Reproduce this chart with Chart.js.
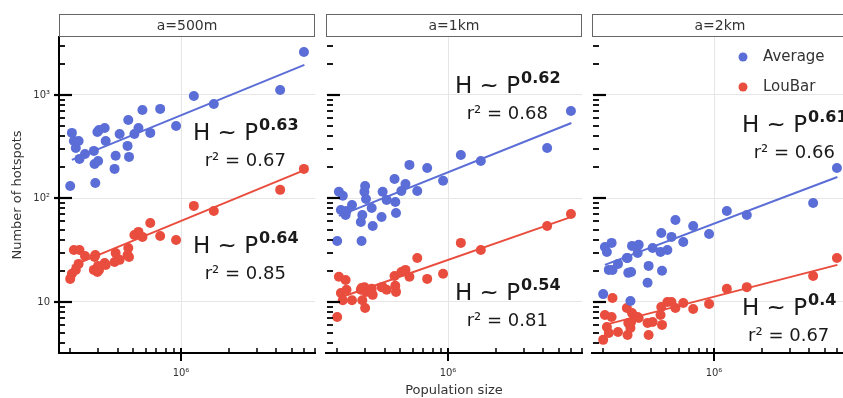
<!DOCTYPE html>
<html>
<head>
<meta charset="utf-8">
<script src="https://cdn.jsdelivr.net/npm/chart.js@4.4.0/dist/chart.umd.min.js"></script>
<style>
  body { margin: 0; background: #fff; }
  #wrap { position: relative; width: 843px; height: 398px; overflow: hidden; }
  canvas { position: absolute; top: 0; }
</style>
</head>
<body>
<div id="wrap">
  <canvas id="c500" width="320" height="398" style="left:0px"></canvas>
  <canvas id="c1k" width="267" height="398" style="left:320px"></canvas>
  <canvas id="c2k" width="267" height="398" style="left:586px"></canvas>
</div>
<script>
// city populations (shared by every panel)
const population = [200000, 205000, 211000, 217000, 226000, 229000, 248000, 282000, 285000, 288000,
  297000, 300000, 304000, 330000, 335000, 381000, 387000, 410000, 460000, 465000,
  470000, 508000, 539000, 571000, 640000, 739000, 931000, 1205000, 1610000, 4220000, 5960000];

// number of hotspots, same city order
const avg500 = [132, 430, 359, 307, 359, 241, 269, 288, 215, 141, 439, 230, 459, 480, 359, 193, 258, 420, 322, 573,
  252, 420, 480, 716, 430, 733, 501, 978, 819, 1117, 2603];
const lou500 = [16.7, 18.7, 31.8, 20.4, 23.3, 31.8, 27.8, 20.4, 27.2, 28.4, 19.5, 22.3, 20.4, 23.8, 22.8, 24.3, 29.7,
  25.5, 28.4, 33.2, 27.2, 44.4, 47.5, 42.5, 58.0, 43.4, 39.7, 84.7, 75.7, 121, 193];
const avg1k = [38.8, 116, 77.4, 106, 69.3, 75.7, 86.5, 59.3, 38.8, 69.3, 116, 132, 98.9, 80.9, 54.2, 66.2, 116, 96.8,
  154, 92.5, 72.4, 118, 138, 211, 118, 197, 148, 263, 230, 307, 700];
const lou1k = [7.16, 17.5, 12.2, 10.4, 16.3, 13.1, 10.4, 13.1, 13.6, 10.4, 13.9, 8.75, 12.5, 13.4, 11.7, 13.9, 13.9,
  13.1, 17.8, 14.3, 12.5, 19.5, 20.4, 17.5, 26.6, 16.7, 18.7, 37.2, 31.8, 54.2, 70.8];
const avg2k = [11.9, 34.0, 30.4, 20.4, 37.2, 20.4, 23.3, 26.6, 26.6, 19.1, 10.2, 19.5, 34.8, 29.7, 35.6, 15.3, 22.3,
  33.2, 30.4, 46.4, 20.0, 31.8, 42.5, 62.0, 38.0, 54.2, 45.4, 75.7, 69.3, 90.5, 197];
const lou2k = [4.30, 7.48, 5.73, 5.01, 7.16, 10.9, 5.13, 8.75, 4.80, 6.27, 5.61, 6.41, 7.83, 7.16, 7.00, 6.27, 4.80,
  6.41, 7.48, 8.95, 6.00, 10.0, 10.0, 8.75, 9.77, 8.56, 9.57, 13.4, 13.9, 17.8, 26.6];

// fitted power laws, read at both ends of the population range
const fitPop = [205000, 6000000];
const fitAvg500 = [236, 1950], fitLou500 = [22.3, 188];
const fitAvg1k = [67.8, 536], fitLou1k = [10.9, 66.3];
const fitAvg2k = [22.8, 161], fitLou2k = [6.0, 22.8];

const panelTitles = ['a=500m', 'a=1km', 'a=2km'];
const expAvg = ['0.63', '0.62', '0.61'], r2Avg = ['0.67', '0.68', '0.66'];
const expLou = ['0.64', '0.54', '0.4'], r2Lou = ['0.85', '0.81', '0.67'];

// axis ticks
const yTicks = [4, 5, 6, 7, 8, 9, 10, 20, 30, 40, 50, 60, 70, 80, 90, 100, 200, 300, 400, 500, 600, 700, 800, 900, 1000, 2000, 3000];
const yLabels = { 10: '10', 100: '10²', 1000: '10³' };
const xTicks = [2e5, 3e5, 4e5, 5e5, 6e5, 7e5, 8e5, 9e5, 1e6, 2e6, 3e6, 4e6, 5e6, 6e6, 7e6];
const xLabels = { 1000000: '10⁶' };

const BLUE = '#5b6dd6';
const RED = '#e94d3e';
const FONT = '"DejaVu Sans"';

Chart.defaults.font.family = FONT;
Chart.defaults.color = '#333';

const pts = (ys) => population.map((p, i) => ({ x: p, y: ys[i] }));
const fit = (ys) => fitPop.map((p, i) => ({ x: p, y: ys[i] }));

function drawLaw(ctx, x, y, exp, r2) {
  ctx.fillStyle = '#1a1a1a';
  ctx.textBaseline = 'alphabetic';
  ctx.textAlign = 'left';
  ctx.font = '23px ' + FONT;
  const base = 'H ~ P';
  const w1 = ctx.measureText(base).width;
  ctx.fillText(base, x, y);
  ctx.font = 'bold 16px ' + FONT;
  const w2 = ctx.measureText(exp).width;
  ctx.fillText(exp, x + w1 + 1, y - 10);
  ctx.font = '18px ' + FONT;
  ctx.textAlign = 'center';
  ctx.fillText('r² = ' + r2, x + (w1 + w2) / 2, y + 26);
}

function makePanel(id, idx, opt) {
  const decor = {
    id: 'decor',
    afterDraw(chart) {
      const { ctx, chartArea: a, scales: { x, y } } = chart;
      ctx.save();
      // strip title
      ctx.fillStyle = '#fff';
      ctx.strokeStyle = '#666';
      ctx.lineWidth = 1;
      ctx.fillRect(a.left, 14, a.right - a.left, 23);
      ctx.strokeRect(a.left + 0.5, 14.5, a.right - a.left - 1, 22);
      ctx.fillStyle = '#333';
      ctx.font = '14px ' + FONT;
      ctx.textAlign = 'center';
      ctx.textBaseline = 'middle';
      ctx.fillText(panelTitles[idx], (a.left + a.right) / 2, 26);

      // inward tick marks
      ctx.strokeStyle = '#000';
      x.ticks.forEach(t => {
        const px = Math.round(x.getPixelForValue(t.value));
        ctx.lineWidth = t.major ? 2 : 1.5;
        ctx.beginPath();
        ctx.moveTo(px, a.bottom + (t.major ? 8 : 0));
        ctx.lineTo(px, a.bottom - 5);
        ctx.stroke();
      });
      y.ticks.forEach(t => {
        const py = Math.round(y.getPixelForValue(t.value));
        ctx.lineWidth = t.major ? 2.2 : 1.8;
        ctx.beginPath();
        if (opt.spine) {
          ctx.moveTo(a.left - (t.major ? 5 : 0), py);
          ctx.lineTo(a.left + (t.major ? 13 : 6), py);
        } else {
          ctx.moveTo(a.left + 1, py);
          ctx.lineTo(a.left + (t.major ? 14 : 7), py);
        }
        ctx.stroke();
      });

      // power-law annotations
      drawLaw(ctx, a.left + opt.noteX, opt.avgY, expAvg[idx], r2Avg[idx]);
      drawLaw(ctx, a.left + opt.noteX, opt.louY, expLou[idx], r2Lou[idx]);

      // legend
      if (opt.legend) {
        [['Average', BLUE, 57], ['LouBar', RED, 87]].forEach(([txt, col, ly]) => {
          ctx.fillStyle = col;
          ctx.beginPath();
          ctx.arc(a.left + 151, ly, 4.5, 0, Math.PI * 2);
          ctx.fill();
          ctx.fillStyle = '#333';
          ctx.font = '15px ' + FONT;
          ctx.textAlign = 'left';
          ctx.textBaseline = 'middle';
          ctx.fillText(txt, a.left + 171, ly);
        });
      }
      ctx.restore();
    }
  };

  new Chart(document.getElementById(id), {
    type: 'scatter',
    data: {
      datasets: [
        { data: fit(opt.fitAvg), showLine: true, borderColor: BLUE, borderWidth: 2, pointRadius: 0, order: 0 },
        { data: fit(opt.fitLou), showLine: true, borderColor: RED, borderWidth: 2, pointRadius: 0, order: 0 },
        { label: 'Average', data: pts(opt.avg), backgroundColor: BLUE, borderWidth: 0, pointRadius: 5, order: 1 },
        { label: 'LouBar', data: pts(opt.lou), backgroundColor: RED, borderWidth: 0, pointRadius: 5, order: 1 }
      ]
    },
    options: {
      responsive: false,
      animation: false,
      events: [],
      devicePixelRatio: 1,
      layout: { padding: { top: 37, right: 2, left: 0, bottom: 0 } },
      plugins: { legend: { display: false }, tooltip: { enabled: false } },
      scales: {
        x: {
          type: 'logarithmic',
          min: 1.7e5,
          max: 7.0e6,
          afterBuildTicks: s => { s.ticks = xTicks.map(v => ({ value: v, major: v === 1e6 })); },
          afterFit: s => { s.height = 45; },
          ticks: { autoSkip: false, maxRotation: 0, padding: 1, font: { size: 10 }, color: '#333',
            callback: v => xLabels[v] || '' },
          grid: { drawTicks: true, tickLength: 13, tickColor: 'rgba(0,0,0,0)',
            color: c => (c.tick && c.tick.major) ? '#e6e6e6' : 'rgba(0,0,0,0)' },
          border: { display: true, color: '#000', width: 2 },
          title: { display: !!opt.xTitle, text: 'Population size', font: { size: 13 }, color: '#333',
            padding: { top: 0, bottom: 0 } }
        },
        y: {
          type: 'logarithmic',
          min: 3.21,
          max: 3630,
          afterBuildTicks: s => { s.ticks = yTicks.map(v => ({ value: v, major: v === 10 || v === 100 || v === 1000 })); },
          afterFit: s => { s.width = opt.yWidth; },
          ticks: { display: !!opt.spine, autoSkip: false, padding: 9, font: { size: 10 }, color: '#333',
            callback: v => yLabels[v] || '' },
          grid: { drawTicks: false, color: c => (c.tick && c.tick.major) ? '#e6e6e6' : 'rgba(0,0,0,0)' },
          border: { display: !!opt.spine, color: '#000', width: 2 },
          title: { display: !!opt.spine, text: 'Number of hotspots', font: { size: 13 }, color: '#333',
            padding: { top: 10, bottom: 0 } }
        }
      }
    },
    plugins: [decor]
  });
}

makePanel('c500', 0, { avg: avg500, lou: lou500, fitAvg: fitAvg500, fitLou: fitLou500,
  yWidth: 59, spine: true, noteX: 134, avgY: 140, louY: 253 });
makePanel('c1k', 1, { avg: avg1k, lou: lou1k, fitAvg: fitAvg1k, fitLou: fitLou1k,
  yWidth: 6, xTitle: true, noteX: 129, avgY: 93, louY: 300 });
makePanel('c2k', 2, { avg: avg2k, lou: lou2k, fitAvg: fitAvg2k, fitLou: fitLou2k,
  yWidth: 6, legend: true, noteX: 150, avgY: 132, louY: 315 });
</script>
</body>
</html>
